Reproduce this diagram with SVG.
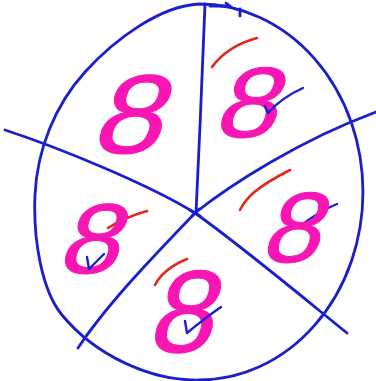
<svg xmlns="http://www.w3.org/2000/svg" width="376" height="381" viewBox="0 0 376 381">
<style>
.ink{fill:none;stroke:#1a1fcc;stroke-width:2.8;stroke-linecap:round;stroke-linejoin:round}
.red{fill:none;stroke:#e2281a;stroke-width:2.6;stroke-linecap:round;stroke-linejoin:round}
.chk{fill:none;stroke:#1a1fcc;stroke-width:2.4;stroke-linecap:round;stroke-linejoin:round}
.eight{font-family:"Liberation Sans",Arial,sans-serif;fill:#f716b4;stroke:#f716b4;stroke-width:1;stroke-linejoin:round;text-anchor:middle}
</style>
<rect width="376" height="381" fill="#ffffff"/>
<g id="circle">
<path class="ink" d="M199,4 A164,188 0 0 1 199,380 C150,381 95,355 62,315 C42,291 33,240 35,195 C37,150 55,105 85,72 C115,39 160,6 199,4 Z"/>
<path class="ink" d="M210,6 L230,6 M226,3 L231,7 M240,9 L240,16"/>
</g>
<g id="connectors">
<path class="ink" d="M205,4 C203,60 199,150 196,213"/>
<path class="ink" d="M5,130 C60,148 150,185 195,213"/>
<path class="ink" d="M195,213 C230,185 300,140 376,112"/>
<path class="ink" d="M195,213 C160,250 110,300 78,348"/>
<path class="ink" d="M195,213 C240,245 300,295 347,333"/>
<path class="ink" d="M190,210 L200,216 M192,216 L199,209"/>
</g>
<g id="sector-top-left">
<text class="eight" font-size="112" transform="translate(124,153) skewX(-18) scale(1.12,1)">8</text>
</g>
<g id="sector-top-right">
<path class="red" d="M212,67 C220,56 235,44 257,38"/>
<text class="eight" font-size="100" transform="translate(243,137) skewX(-18) scale(1.12,1)">8</text>
<path class="chk" d="M265,106 L268,113 C275,105 285,96 303,88"/>
</g>
<g id="sector-right">
<path class="red" d="M240,210 C246,198 255,188 290,170"/>
<path class="chk" d="M298,228 C310,218 322,210 337,204"/>
<text class="eight" font-size="100" transform="translate(288,262) skewX(-18) scale(1.05,1)">8</text>
</g>
<g id="sector-left">
<path class="red" d="M108,228 C120,220 133,215 147,211"/>
<text class="eight" font-size="99" transform="translate(86,273) skewX(-18) scale(1.1,1)">8</text>
<path class="chk" d="M87,257 L89,269 L104,254"/>
</g>
<g id="sector-bottom">
<path class="red" d="M155,285 C160,275 170,266 187,259"/>
<text class="eight" font-size="117" transform="translate(178,352) skewX(-15)">8</text>
<path class="chk" d="M185,321 L187,333 C193,328 205,318 221,307"/>
</g>
</svg>
